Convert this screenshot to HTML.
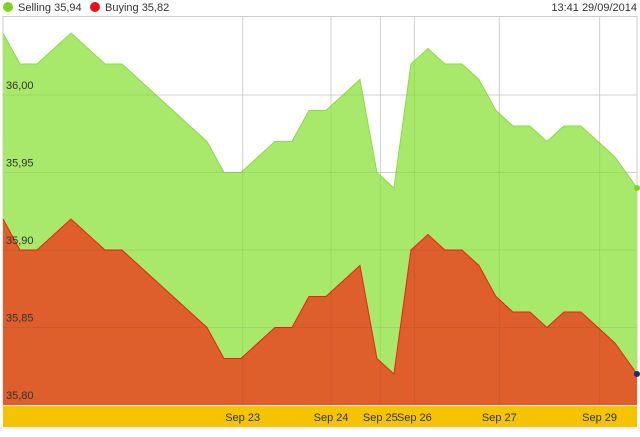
<!DOCTYPE html>
<html><head><meta charset="utf-8"><style>
body{margin:0;width:640px;height:432px;background:#fff;overflow:hidden;font-family:"Liberation Sans",sans-serif}
</style></head><body>
<svg width="640" height="432" font-family="Liberation Sans, sans-serif">
<g font-size="11" fill="#333">
<circle cx="8" cy="7" r="5" fill="#7dd420"/>
<text x="18" y="11">Selling 35,94</text>
<circle cx="95" cy="7" r="5" fill="#e8101a"/>
<text x="105" y="11">Buying 35,82</text>
<text x="637" y="11" text-anchor="end">13:41 29/09/2014</text>
</g>
<rect x="3" y="16.5" width="634" height="390" fill="none" stroke="#ccc"/>
<g id="grid"></g><g id="areas"></g><g id="labels"></g>
</svg>
<script>
const slots=[0,1,2,4,6,7,12,13,14,16,17,18,19,21,22,23,24,25,26,27,28,29,30,31,32,33,34,36,37.3];
const selling=[36.04,36.02,36.02,36.04,36.02,36.02,35.97,35.95,35.95,35.97,35.97,35.99,35.99,36.01,35.95,35.94,36.02,36.03,36.02,36.02,36.01,35.99,35.98,35.98,35.97,35.98,35.98,35.96,35.94];
const buying=[35.92,35.90,35.90,35.92,35.90,35.90,35.85,35.83,35.83,35.85,35.85,35.87,35.87,35.89,35.83,35.82,35.90,35.91,35.90,35.90,35.89,35.87,35.86,35.86,35.85,35.86,35.86,35.84,35.82];
const tickSlots=[14.1,19.3,22.2,24.2,29.2,35.1];
const tickLabels=["Sep 23","Sep 24","Sep 25","Sep 26","Sep 27","Sep 29"];
const yTicks=[35.80,35.85,35.90,35.95,36.00];
const NS="http://www.w3.org/2000/svg";
const X=s=>3+s*(634/37.3);
const Y=v=>405-(v-35.80)*1550;
function mk(t,a,p){const e=document.createElementNS(NS,t);for(const k in a)e.setAttribute(k,a[k]);p.appendChild(e);return e;}
const grid=document.getElementById('grid'),areas=document.getElementById('areas'),labels=document.getElementById('labels');
yTicks.forEach(v=>{
 const l=mk('line',{x1:3,x2:637,y1:Y(v),y2:Y(v),stroke:'#ddd'},grid);
 
 
});
tickSlots.forEach(s=>{
 const l=mk('line',{x1:X(s),x2:X(s),y1:17,y2:405,stroke:'#ddd'},grid);
 
 
});
function area(vals,fill,stroke,name){
 let d='M'+X(slots[0])+','+Y(vals[0]);
 vals.forEach((v,i)=>{d+=' L'+X(slots[i])+','+Y(v);});
 const line=d;
 d+=' L'+X(slots[slots.length-1])+',405 L'+X(slots[0])+',405 Z';
 const a=mk('path',{d:d,fill:fill},areas);
 
 
 const l=mk('path',{d:line,fill:'none',stroke:stroke,'stroke-width':1},areas);
 
 
}
area(selling,'#a8e86a','#8ed84a','selling');
area(buying,'#de5f2b','#e02a10','buying');
// re-draw gridlines faintly over areas
tickSlots.forEach(s=>{
 const l=mk('line',{x1:X(s),x2:X(s),y1:17,y2:405,stroke:'rgba(0,0,0,0.06)'},areas);
 
 
});
yTicks.forEach(v=>{
 const l=mk('line',{x1:3,x2:637,y1:Y(v),y2:Y(v),stroke:'rgba(0,0,0,0.06)'},areas);
 
 
 const t=mk('text',{x:6,y:Y(v)-6,'font-size':11,fill:'#333'},labels);
 t.textContent=v.toFixed(2).replace('.',',');
 
 
});
const last=slots.length-1;
const d1=mk('circle',{cx:X(slots[last]),cy:Y(selling[last]),r:3,fill:'#7dd420'},labels);


const d2=mk('circle',{cx:X(slots[last]),cy:Y(buying[last]),r:3,fill:'#1a2a6a'},labels);


const band=mk('rect',{x:3,y:406,width:634,height:21,fill:'#f5c400'},labels);


const bl=mk('line',{x1:0,x2:640,y1:428,y2:428,stroke:'#ddd'},labels);


tickSlots.forEach((s,i)=>{
 const t=mk('text',{x:X(s),y:421,'font-size':11,fill:'#333','text-anchor':'middle'},labels);
 t.textContent=tickLabels[i];
 
 
});
</script>
</body></html>
